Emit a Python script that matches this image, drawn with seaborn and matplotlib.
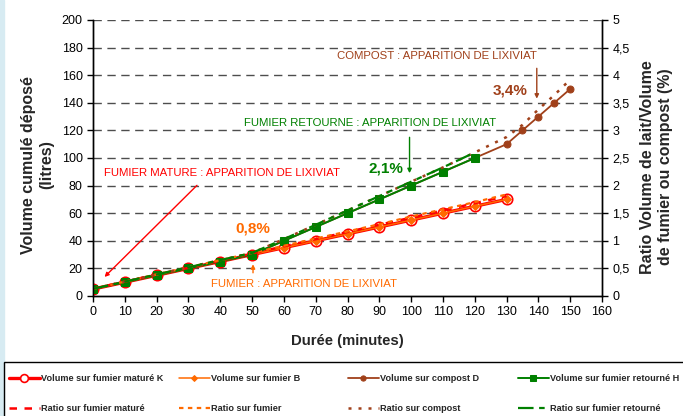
import numpy as np
import pandas as pd
import matplotlib
matplotlib.use("Agg")
import matplotlib.pyplot as plt
from matplotlib.patches import Rectangle
import seaborn as sns

# Data
t_main = [0, 10, 20, 30, 40, 50, 60, 70, 80, 90, 100, 110, 120, 130]
vol_mature_k = [5, 10, 15, 20, 25, 30, 35, 40, 45, 50, 55, 60, 65, 70]
vol_fumier_b = [5, 10, 15, 20, 25, 30, 35, 40, 45, 50, 55, 60, 65, 70]

t_retourne = [0, 10, 20, 30, 40, 50, 60, 70, 80, 90, 100, 110, 120]
vol_retourne_h = [5, 10, 15, 20, 25, 30, 40, 50, 60, 70, 80, 90, 100]

t_compost = [0, 10, 20, 30, 40, 50, 60, 70, 80, 90, 100, 110, 120, 130, 135, 140, 145, 150]
vol_compost_d = [5, 10, 15, 20, 25, 30, 40, 50, 60, 70, 80, 90, 100, 110, 120, 130, 140, 150]

ratio_mature = [0.13, 0.26, 0.39, 0.51, 0.64, 0.77, 0.9, 1.03, 1.16, 1.29, 1.42, 1.55, 1.68, 1.81]
ratio_fumier = [0.13, 0.26, 0.39, 0.52, 0.65, 0.78, 0.91, 1.04, 1.17, 1.3, 1.44, 1.57, 1.7, 1.84]
ratio_retourne = [0.13, 0.26, 0.39, 0.52, 0.65, 0.78, 1.03, 1.29, 1.55, 1.81, 2.07, 2.33, 2.6]
ratio_compost = [0.13, 0.26, 0.39, 0.52, 0.65, 0.78, 1.03, 1.29, 1.55, 1.81, 2.07, 2.33, 2.6,
                 2.88, 3.1, 3.38, 3.64, 3.92]

x_ticks = list(range(0, 161, 10))
y_ticks = list(range(0, 201, 20))
ratio_ticks = [0, 0.5, 1, 1.5, 2, 2.5, 3, 3.5, 4, 4.5, 5]
ratio_labels = ["0", "0,5", "1", "1,5", "2", "2,5", "3", "3,5", "4", "4,5", "5"]

RED = "#FF0000"
ORANGE = "#FF6A00"
BROWN = "#A0401A"
GREEN = "#008000"

sns.set_style("white")
plt.rcParams["font.family"] = ["Liberation Sans", "DejaVu Sans"]

fig = plt.figure(figsize=(6.83, 4.16), dpi=100)
ax = fig.add_axes([93 / 683, 1 - 296 / 416, (602 - 93) / 683, (296 - 20) / 416])
ax2 = ax.twinx()

# light blue slide edge on the left
fig.patches.append(Rectangle((0, 0), 4 / 683, 1, transform=fig.transFigure,
                             color="#d7ebf2", zorder=0))

# horizontal dashed grid
for yv in y_ticks[1:]:
    ax.axhline(yv, color="0.3", lw=1, ls=(0, (6, 4)), zorder=0)

# volume curves (left axis)
sns.lineplot(x=t_main, y=vol_mature_k, ax=ax, color=RED, lw=2.4, marker="o", ms=7.5,
             mfc="white", mec=RED, mew=1.2, label="Volume sur fumier maturé K", zorder=3)
sns.lineplot(x=t_main, y=vol_fumier_b, ax=ax, color=ORANGE, lw=1.1, marker="D", ms=4,
             mfc=ORANGE, mec=ORANGE, label="Volume sur fumier B", zorder=4)
sns.lineplot(x=t_compost, y=vol_compost_d, ax=ax, color=BROWN, lw=1.3, marker="o", ms=5,
             mfc=BROWN, mec=BROWN, label="Volume sur compost D", zorder=2)
sns.lineplot(x=t_retourne, y=vol_retourne_h, ax=ax, color=GREEN, lw=1.4, marker="s", ms=5.5,
             mfc=GREEN, mec=GREEN, label="Volume sur fumier retourné H", zorder=5)

# ratio curves (right axis)
sns.lineplot(x=t_main, y=ratio_mature, ax=ax2, color=RED, lw=1.8, ls=(0, (3, 3)),
             label="Ratio sur fumier maturé")
sns.lineplot(x=t_main, y=ratio_fumier, ax=ax2, color=ORANGE, lw=1.6, ls=(0, (2, 2)),
             label="Ratio sur fumier")
sns.lineplot(x=t_compost, y=ratio_compost, ax=ax2, color=BROWN, lw=1.8, ls=(0, (1.2, 2.8)),
             label="Ratio sur compost")
sns.lineplot(x=t_retourne, y=ratio_retourne, ax=ax2, color=GREEN, lw=1.6, ls=(0, (7, 2.5, 2.5, 2.5)),
             label="Ratio sur fumier retourné")

ax.set_xlim(0, 160)
ax.set_ylim(0, 200)
ax2.set_ylim(0, 5)
ax.set_xticks(x_ticks)
ax.set_yticks(y_ticks)
ax2.set_yticks(ratio_ticks)
ax2.set_yticklabels(ratio_labels)

for a in (ax, ax2):
    a.spines["top"].set_visible(False)
    for s in ("left", "right", "bottom"):
        a.spines[s].set_color("black")
        a.spines[s].set_linewidth(1)
ax.tick_params(axis="both", labelsize=9, length=4, width=1, direction="out",
               colors="black", left=True, bottom=True)
ax2.tick_params(axis="y", labelsize=9, length=4, width=1, direction="out",
                colors="black", right=True)

ax.set_xlabel("Durée (minutes)", fontsize=10.7, fontweight="bold", va="center")
ax.xaxis.set_label_coords(0.5, (296 - 340.7) / 276)
ax.set_ylabel("Volume cumulé déposé\n(litres)", fontsize=11.5, fontweight="bold",
              va="center", ha="center", linespacing=1.3)
ax.yaxis.set_label_coords((37.6 - 93.3) / 509, (296 - 165) / 276)
ax2.set_ylabel("Ratio Volume de lait/Volume\nde fumier ou compost (%)", fontsize=11.5,
               fontweight="bold", va="center", ha="center", linespacing=1.3)
ax2.yaxis.set_label_coords((656.7 - 93.3) / 509, (296 - 167) / 276)

# annotations
ann_size = 8.2
ax.text(108, 174, "COMPOST : APPARITION DE LIXIVIAT", color=BROWN, fontsize=ann_size,
        ha="center", va="center")
ax.annotate("", xy=(139.5, 141), xytext=(139.5, 167),
            arrowprops=dict(arrowstyle="-|>", color=BROWN, lw=1, mutation_scale=6))
ax.text(131, 149, "3,4%", color=BROWN, fontsize=11, fontweight="bold", ha="center", va="center")

ax.text(87, 125.5, "FUMIER RETOURNE : APPARITION DE LIXIVIAT", color=GREEN, fontsize=ann_size,
        ha="center", va="center")
ax.annotate("", xy=(99.5, 87), xytext=(99.5, 117),
            arrowprops=dict(arrowstyle="-|>", color=GREEN, lw=1, mutation_scale=6))
ax.text(92, 92.5, "2,1%", color=GREEN, fontsize=11, fontweight="bold", ha="center", va="center")

ax.text(40.5, 89, "FUMIER MATURE : APPARITION DE LIXIVIAT", color=RED, fontsize=ann_size,
        ha="center", va="center")
ax.annotate("", xy=(3, 12.4), xytext=(33.3, 81.6),
            arrowprops=dict(arrowstyle="-|>", color=RED, lw=1, mutation_scale=6))

ax.text(50.2, 49, "0,8%", color=ORANGE, fontsize=11, fontweight="bold", ha="center", va="center")
ax.text(66.3, 8.7, "FUMIER : APPARITION DE LIXIVIAT", color=ORANGE, fontsize=ann_size,
        ha="center", va="center")
ax.annotate("", xy=(50.3, 25), xytext=(50.3, 14.8),
            arrowprops=dict(arrowstyle="-|>", color=ORANGE, lw=1, mutation_scale=6))

# legend: one column per series pair, placed at fixed positions like the original
h1, l1 = ax.get_legend_handles_labels()
h2, l2 = ax2.get_legend_handles_labels()
ax.get_legend().remove()
ax2.get_legend().remove()
col_x = [6, 176, 345, 515]
for i, x0 in enumerate(col_x):
    fig.legend([h1[i], h2[i]], [l1[i], l2[i]], loc="upper left",
               bbox_to_anchor=(x0 / 683, 1 - 371.5 / 416), frameon=False, ncol=1,
               prop={"size": 6.6, "weight": "bold"}, handlelength=3.4, handletextpad=0.15,
               labelspacing=2.25, borderpad=0.3, borderaxespad=0, markerscale=0.75)
fig.patches.append(Rectangle((4 / 683, -0.05), 1.0, 1 - 362 / 416 + 0.05,
                             transform=fig.transFigure, fill=False, ec="black", lw=1))

fig.savefig("out.png", dpi=100)
